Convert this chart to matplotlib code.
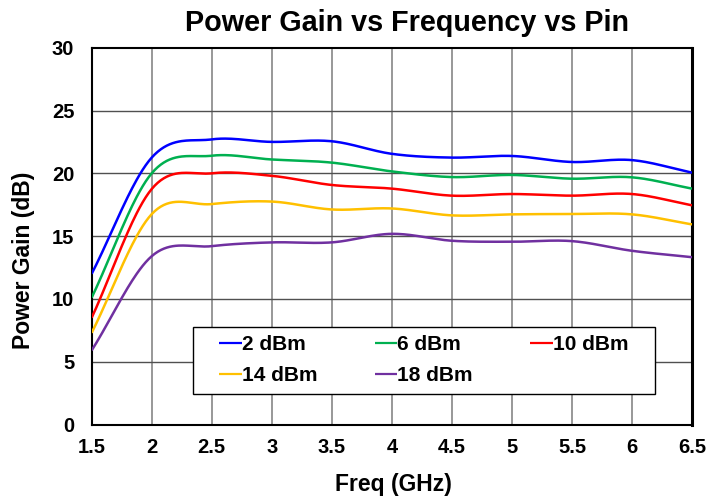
import numpy as np
import matplotlib
matplotlib.use("Agg")
import matplotlib.pyplot as plt
from matplotlib.patches import Rectangle

plt.rcParams['font.family'] = ['Liberation Sans', 'DejaVu Sans']
plt.rcParams['font.weight'] = 'bold'

# Frequency points (GHz) and power gain (dB) for each input power
freq_ghz = [1.5, 2.0, 2.5, 3.0, 3.5, 4.0, 4.5, 5.0, 5.5, 6.0, 6.5]
gain_2dbm = [12.0, 21.25, 22.7, 22.5, 22.55, 21.55, 21.25, 21.38, 20.9, 21.05, 20.05]
gain_6dbm = [10.1, 20.0, 21.4, 21.1, 20.85, 20.15, 19.7, 19.87, 19.57, 19.68, 18.78]
gain_10dbm = [8.5, 18.75, 20.0, 19.8, 19.07, 18.78, 18.22, 18.35, 18.22, 18.35, 17.45]
gain_14dbm = [7.3, 16.75, 17.55, 17.75, 17.12, 17.2, 16.65, 16.73, 16.76, 16.73, 15.93]
gain_18dbm = [5.9, 13.4, 14.2, 14.5, 14.5, 15.18, 14.63, 14.55, 14.6, 13.83, 13.32]

series_labels = ["2 dBm", "6 dBm", "10 dBm", "14 dBm", "18 dBm"]
series_values = [gain_2dbm, gain_6dbm, gain_10dbm, gain_14dbm, gain_18dbm]
series_colors = ["#0000FF", "#00B050", "#FF0000", "#FFC000", "#7030A0"]

x_ticks = [1.5, 2.0, 2.5, 3.0, 3.5, 4.0, 4.5, 5.0, 5.5, 6.0, 6.5]
x_tick_labels = ["1.5", "2", "2.5", "3", "3.5", "4", "4.5", "5", "5.5", "6", "6.5"]
y_ticks = [0, 5, 10, 15, 20, 25, 30]


def smooth_line(x, y, n=40):
    """Cardinal (Catmull-Rom) smoothing through the data points."""
    x = np.asarray(x, float)
    y = np.asarray(y, float)
    m = np.empty_like(y)
    m[1:-1] = (y[2:] - y[:-2]) / (x[2:] - x[:-2])
    m[0] = (y[1] - y[0]) / (x[1] - x[0])
    m[-1] = (y[-1] - y[-2]) / (x[-1] - x[-2])
    xs, ys = [], []
    for i in range(len(x) - 1):
        h = x[i + 1] - x[i]
        t = np.linspace(0, 1, n, endpoint=(i == len(x) - 2))
        h00 = 2 * t**3 - 3 * t**2 + 1
        h10 = t**3 - 2 * t**2 + t
        h01 = -2 * t**3 + 3 * t**2
        h11 = t**3 - t**2
        xs.append(x[i] + t * h)
        ys.append(h00 * y[i] + h10 * h * m[i] + h01 * y[i + 1] + h11 * h * m[i + 1])
    return np.concatenate(xs), np.concatenate(ys)


fig = plt.figure(figsize=(7.27, 5.0), dpi=100)
ax = fig.add_axes([0.1261, 0.151, 0.8258, 0.7536])

lines = []
for label, vals, color in zip(series_labels, series_values, series_colors):
    sx, sy = smooth_line(freq_ghz, vals)
    ln, = ax.plot(sx, sy, color=color, lw=1.8, label=label, zorder=3,
                  solid_capstyle='butt')
    lines.append(ln)

ax.set_xlim(1.5, 6.5)
ax.set_ylim(0, 30)
ax.set_xticks(x_ticks)
ax.set_xticklabels(x_tick_labels)
ax.set_yticks(y_ticks)

for v in x_ticks[1:-1]:
    ax.axvline(v, color="#909090", lw=1.3, zorder=1)
for v in y_ticks[1:-1]:
    ax.axhline(v, color="#505050", lw=1.0, zorder=1)

ax.tick_params(axis='both', length=0, labelsize=14.5)
ax.tick_params(axis='x', pad=10)
ax.tick_params(axis='y', pad=12.5)
for lab in ax.get_xticklabels() + ax.get_yticklabels():
    lab.set_fontweight('bold')

for side in ['left', 'bottom', 'top']:
    ax.spines[side].set_linewidth(1.5)
    ax.spines[side].set_color('black')
ax.spines['right'].set_linewidth(2.2)
ax.spines['right'].set_color('black')

# Legend box, entries laid out row by row
ax.add_patch(Rectangle((0.168, 0.081), 0.770, 0.1786, transform=ax.transAxes,
                       facecolor='white', edgecolor='black', lw=1.0, zorder=4))
order = [0, 3, 1, 4, 2]
leg = ax.legend([lines[i] for i in order], [series_labels[i] for i in order],
                loc='center', bbox_to_anchor=(0.5533, 0.170), ncol=3,
                frameon=False, fontsize=15, handlelength=1.07,
                handletextpad=0.0, columnspacing=2.77, labelspacing=0.58,
                borderpad=0.0)
leg.set_zorder(5)
for t in leg.get_texts():
    t.set_fontweight('bold')
for h in leg.get_lines():
    h.set_linewidth(1.6)

fig.text(406.5 / 727, 1 - 30.6 / 500, "Power Gain vs Frequency vs Pin",
         ha='center', va='baseline', fontsize=20.7, fontweight='bold')
fig.text(393.3 / 727, 1 - 484.5 / 500, "Freq (GHz)", ha='center', va='center',
         fontsize=16.5, fontweight='bold')
fig.text(24 / 727, 1 - 260.5 / 500, "Power Gain (dB)", ha='center',
         va='center', rotation=90, fontsize=16.5, fontweight='bold')

fig.savefig("out.png", dpi=100)
